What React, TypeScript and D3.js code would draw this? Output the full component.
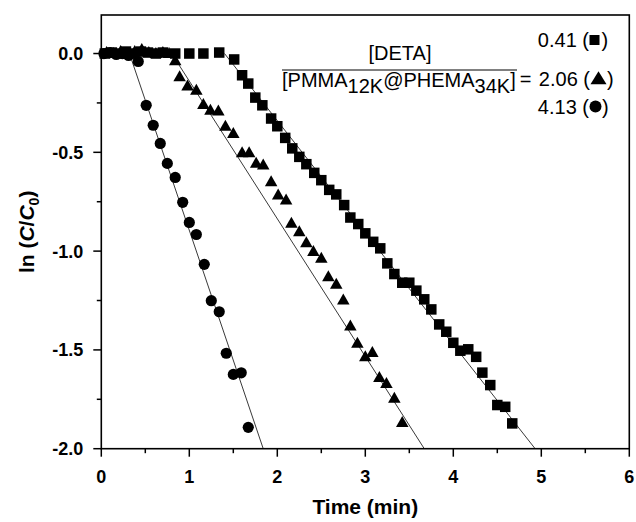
import React from "react";
import * as d3 from "d3";

const W = 636;
const H = 522;

// Series: [DETA]/[PMMA12K@PHEMA34K] = 0.41 (squares)
const squareT = [0.04, 0.12, 0.2, 0.28, 0.36, 0.45, 0.53, 0.62, 0.7, 0.84, 1.0, 1.16, 1.34, 1.51, 1.6, 1.67, 1.75, 1.83, 1.93, 2.0, 2.09, 2.17, 2.25, 2.33, 2.42, 2.5, 2.59, 2.67, 2.76, 2.83, 2.92, 3.0, 3.09, 3.17, 3.25, 3.33, 3.42, 3.5, 3.58, 3.67, 3.75, 3.84, 3.92, 4.0, 4.08, 4.17, 4.26, 4.33, 4.42, 4.5, 4.59, 4.67];
const squareV = [0.0, 0.005, 0.0, 0.01, 0.0, 0.01, 0.005, 0.0, 0.005, 0.0, 0.0, 0.0, 0.005, -0.03, -0.11, -0.152, -0.223, -0.262, -0.329, -0.368, -0.427, -0.48, -0.523, -0.56, -0.604, -0.641, -0.69, -0.713, -0.767, -0.83, -0.863, -0.91, -0.953, -0.986, -1.062, -1.116, -1.16, -1.16, -1.2, -1.244, -1.295, -1.371, -1.408, -1.464, -1.504, -1.497, -1.535, -1.615, -1.678, -1.779, -1.788, -1.872];

// 2.06 (triangles)
const triangleT = [0.06, 0.14, 0.22, 0.3, 0.38, 0.46, 0.54, 0.62, 0.7, 0.77, 0.84, 0.89, 0.98, 1.08, 1.16, 1.24, 1.33, 1.41, 1.5, 1.6, 1.68, 1.76, 1.84, 1.93, 2.01, 2.1, 2.16, 2.25, 2.33, 2.41, 2.5, 2.58, 2.67, 2.75, 2.83, 2.91, 3.0, 3.08, 3.16, 3.24, 3.33, 3.42];
const triangleV = [0.005, 0.0, 0.01, -0.005, 0.01, 0.02, 0.005, 0.0, 0.005, 0.0, -0.037, -0.118, -0.165, -0.186, -0.258, -0.287, -0.292, -0.368, -0.405, -0.503, -0.503, -0.556, -0.565, -0.65, -0.717, -0.742, -0.86, -0.902, -0.958, -1.003, -1.037, -1.13, -1.168, -1.248, -1.38, -1.467, -1.535, -1.514, -1.64, -1.67, -1.745, -1.868];

// 4.13 (circles)
const circleT = [0.03, 0.1, 0.17, 0.24, 0.31, 0.42, 0.51, 0.59, 0.67, 0.75, 0.84, 0.925, 1.0, 1.08, 1.17, 1.25, 1.34, 1.42, 1.5, 1.59, 1.67];
const circleV = [0.0, 0.005, -0.005, 0.0, -0.01, -0.04, -0.262, -0.363, -0.455, -0.556, -0.627, -0.753, -0.855, -0.916, -1.067, -1.251, -1.307, -1.517, -1.624, -1.616, -1.892];

// Linear fits (square, triangle, circle): start/end points
const fitT0 = [1.4, 0.8, 0.32];
const fitV0 = [0, 0, 0];
const fitT1 = [4.93, 3.67, 1.84];
const fitV1 = [-2, -2, -2];

const xTicks = [0, 1, 2, 3, 4, 5, 6];
const xMinor = [0.5, 1.5, 2.5, 3.5, 4.5, 5.5];
const yTicks = [0, -0.5, -1, -1.5, -2];
const yMinor = [-0.25, -0.75, -1.25, -1.75];

const legendRatios = ["0.41", "2.06", "4.13"];

export default function App() {
  const x = d3.scaleLinear().domain([0, 6]).range([101.3, 629.3]);
  const y = d3.scaleLinear().domain([-2, 0.195]).range([448.7, 15]);
  const font = "'Liberation Sans', Arial, Helvetica, sans-serif";
  const left = x(0), right = x(6), top = y(0.195), bottom = y(-2);
  const line = d3.line<[number, number]>().x(d => x(d[0])).y(d => y(d[1]));
  const sq = 10.5;
  const tri = (cx: number, cy: number, w = 12.5, h = 11) =>
    `M${cx},${cy - h * 0.6}L${cx + w / 2},${cy + h * 0.4}L${cx - w / 2},${cy + h * 0.4}Z`;

  return (
    <svg width={W} height={H} style={{ position: "absolute", left: 0, top: 0, background: "#fff" }} fontFamily={font}>
      <rect x={0} y={0} width={W} height={H} fill="#fff" />
      {/* fit lines */}
      {fitT0.map((t0, i) => (
        <path key={"fit" + i} d={line([[t0, fitV0[i]], [fitT1[i], fitV1[i]]]) || ""} stroke="#222" strokeWidth={0.9} fill="none" />
      ))}
      {/* squares */}
      {squareT.map((t, i) => (
        <rect key={"s" + i} x={x(t) - sq / 2} y={y(squareV[i]) - sq / 2} width={sq} height={sq} fill="#000" />
      ))}
      {/* triangles */}
      {triangleT.map((t, i) => (
        <path key={"t" + i} d={tri(x(t), y(triangleV[i]))} fill="#000" />
      ))}
      {/* circles */}
      {circleT.map((t, i) => (
        <circle key={"c" + i} cx={x(t)} cy={y(circleV[i])} r={5.6} fill="#000" />
      ))}
      {/* frame */}
      <rect x={left} y={top} width={right - left} height={bottom - top} fill="none" stroke="#000" strokeWidth={1.6} />
      {/* x ticks */}
      {xTicks.map(t => (
        <g key={"xt" + t}>
          <line x1={x(t)} x2={x(t)} y1={bottom} y2={bottom + 8} stroke="#000" strokeWidth={1.5} />
          <text x={x(t)} y={bottom + 34} textAnchor="middle" fontSize={18} fontWeight="bold">{t}</text>
        </g>
      ))}
      {xMinor.map(t => (
        <line key={"xm" + t} x1={x(t)} x2={x(t)} y1={bottom} y2={bottom + 4.5} stroke="#000" strokeWidth={1.5} />
      ))}
      {/* y ticks */}
      {yTicks.map(v => (
        <g key={"yt" + v}>
          <line x1={left - 8} x2={left} y1={y(v)} y2={y(v)} stroke="#000" strokeWidth={1.5} />
          <text x={left - 18} y={y(v) + 6.5} textAnchor="end" fontSize={18} fontWeight="bold">{d3.format(".1f")(v).replace("\u2212", "-")}</text>
        </g>
      ))}
      {yMinor.map(v => (
        <line key={"ym" + v} x1={left - 4.5} x2={left} y1={y(v)} y2={y(v)} stroke="#000" strokeWidth={1.5} />
      ))}
      {/* axis titles */}
      <text x={(left + right) / 2} y={514} textAnchor="middle" fontSize={21} fontWeight="bold">Time (min)</text>
      <text transform={`translate(34, ${(top + bottom) / 2}) rotate(-90)`} textAnchor="middle" fontSize={21} fontWeight="bold">
        ln (<tspan fontStyle="italic">C</tspan>/<tspan fontStyle="italic">C</tspan><tspan fontSize={14} dy={5}>0</tspan><tspan dy={-5}>)</tspan>
      </text>
      {/* legend */}
      <text x={400} y={60} textAnchor="middle" fontSize={20}>[DETA]</text>
      <line x1={282} x2={517} y1={70} y2={70} stroke="#000" strokeWidth={1} />
      <text x={282} y={87} fontSize={20}>
        [PMMA<tspan dy={6}>12K</tspan><tspan dy={-6}>@PHEMA</tspan><tspan dy={6}>34K</tspan><tspan dy={-6}>]</tspan>
      </text>
      {/* row 1: squares */}
      <text x={589} y={47} textAnchor="end" fontSize={20}>{legendRatios[0]} (</text>
      <rect x={589.5} y={35} width={10} height={10} fill="#000" />
      <text x={601.5} y={47} fontSize={20}>)</text>
      {/* row 2: triangles */}
      <text x={525.5} y={85.5} textAnchor="middle" fontSize={20}>=</text>
      <text x={590} y={85.5} textAnchor="end" fontSize={20}>{legendRatios[1]} (</text>
      <path d={tri(598.5, 79, 16, 13)} fill="#000" />
      <text x={607} y={85.5} fontSize={20}>)</text>
      {/* row 3: circles */}
      <text x={589} y={113.5} textAnchor="end" fontSize={20}>{legendRatios[2]} (</text>
      <circle cx={595.5} cy={106.5} r={6} fill="#000" />
      <text x={602} y={113.5} fontSize={20}>)</text>
    </svg>
  );
}
